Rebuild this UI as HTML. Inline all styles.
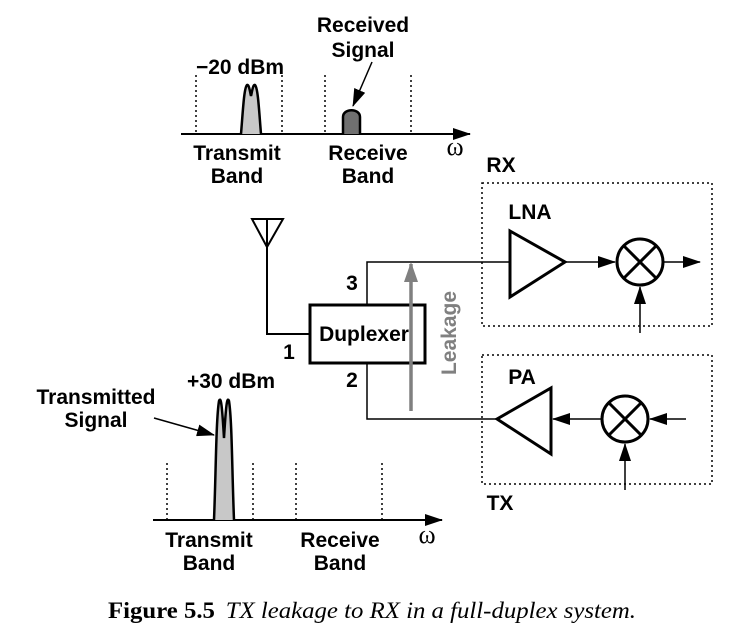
<!DOCTYPE html>
<html><head><style>body{margin:0;background:#fff}svg{display:block}</style></head><body>
<svg width="741" height="634" viewBox="0 0 741 634" xmlns="http://www.w3.org/2000/svg" font-family="Liberation Sans, sans-serif">
<defs><marker id="b" markerWidth="18" markerHeight="12" refX="17" refY="6" orient="auto" markerUnits="userSpaceOnUse"><path d="M0,0L18,6L0,12z" fill="#000"/></marker>
<marker id="g" markerWidth="20" markerHeight="14" refX="18" refY="7" orient="auto" markerUnits="userSpaceOnUse"><path d="M0,0L20,7L0,14z" fill="#808080"/></marker></defs>
<g stroke="#000" fill="none">
<line x1="181" y1="134" x2="470" y2="134" stroke-width="2" marker-end="url(#b)"/>
<g stroke-dasharray="2,3" stroke-width="1.5"><line x1="196" y1="75" x2="196" y2="134"/><line x1="282" y1="75" x2="282" y2="134"/><line x1="325" y1="75" x2="325" y2="134"/><line x1="411" y1="75" x2="411" y2="134"/></g>
<path d="M241,134 C243,110 244,88 247,85 C249,84 250,92 251,96 C252,92 253,84 255,85 C258,88 259,110 261,134" fill="#c8c8c8" stroke-width="2.5"/>
<path d="M343,134 L343,117 C343,108 360,108 360,117 L360,134" fill="#707070" stroke-width="2.5"/>
<line x1="372" y1="62" x2="353" y2="106" stroke-width="1.5" marker-end="url(#b)"/>
<path d="M252,219 L283,219 L267,247 Z M267,219 L267,247 L267,334 L310,334" stroke-width="2"/>
<rect x="310" y="305" width="115" height="58" stroke-width="3"/>
<path d="M367,305 L367,262 L510,262 M367,363 L367,419 L497,419" stroke-width="1.5"/>
<path d="M510,231 L565,262 L510,297 Z" stroke-width="3"/>
<line x1="565" y1="262" x2="615" y2="262" stroke-width="1.5" marker-end="url(#b)"/>
<circle cx="640" cy="262" r="23" stroke-width="3"/>
<path d="M624,246 L656,278 M656,246 L624,278" stroke-width="3"/>
<line x1="663" y1="262" x2="700" y2="262" stroke-width="1.5" marker-end="url(#b)"/>
<line x1="640" y1="333" x2="640" y2="287" stroke-width="1.5" marker-end="url(#b)"/>
<path d="M497,419 L551,388 L551,454 Z" stroke-width="3"/>
<line x1="602" y1="419" x2="553" y2="419" stroke-width="1.5" marker-end="url(#b)"/>
<circle cx="625" cy="419" r="23" stroke-width="3"/>
<path d="M609,403 L641,435 M641,403 L609,435" stroke-width="3"/>
<line x1="686" y1="419" x2="650" y2="419" stroke-width="1.5" marker-end="url(#b)"/>
<line x1="625" y1="490" x2="625" y2="444" stroke-width="1.5" marker-end="url(#b)"/>
<g stroke-dasharray="2,3" stroke-width="1.5"><rect x="482" y="183" width="230" height="143"/><rect x="482" y="355" width="230" height="129"/></g>
<line x1="411" y1="411" x2="411" y2="264" stroke="#808080" stroke-width="3.5" marker-end="url(#g)"/>
<line x1="153" y1="520" x2="442" y2="520" stroke-width="2" marker-end="url(#b)"/>
<g stroke-dasharray="2,3" stroke-width="1.5"><line x1="167" y1="463" x2="167" y2="520"/><line x1="253" y1="463" x2="253" y2="520"/><line x1="296" y1="463" x2="296" y2="520"/><line x1="382" y1="463" x2="382" y2="520"/></g>
<path d="M214,520 C216,470 216,420 219,401 C221,396 222,405 224,438 C226,405 227,396 229,401 C232,420 232,470 234,520" fill="#c8c8c8" stroke-width="2.5"/>
<line x1="154" y1="418" x2="214" y2="435" stroke-width="1.5" marker-end="url(#b)"/>
</g>
<g font-weight="bold" font-size="21" text-anchor="middle" fill="#000">
<text x="240" y="74">−20 dBm</text>
<text x="363" y="32">Received</text><text x="363" y="57">Signal</text>
<text x="237" y="160">Transmit</text><text x="237" y="183">Band</text>
<text x="368" y="160">Receive</text><text x="368" y="183">Band</text>
<text x="501" y="172">RX</text><text x="530" y="219">LNA</text>
<text x="364" y="341">Duplexer</text>
<text x="289" y="359">1</text><text x="352" y="290">3</text><text x="352" y="387">2</text>
<text x="522" y="384">PA</text><text x="500" y="510">TX</text>
<text x="231" y="388">+30 dBm</text>
<text x="96" y="404">Transmitted</text><text x="96" y="427">Signal</text>
<text x="209" y="547">Transmit</text><text x="209" y="570">Band</text>
<text x="340" y="547">Receive</text><text x="340" y="570">Band</text>
<text x="456" y="333" fill="#808080" transform="rotate(-90 456 333)">Leakage</text>
</g>
<text x="455" y="155" font-family="Liberation Serif, serif" font-size="26" text-anchor="middle">ω</text>
<text x="427" y="543" font-family="Liberation Serif, serif" font-size="26" text-anchor="middle">ω</text>
<text x="108" y="618" font-family="Liberation Serif, serif" font-size="23" textLength="528" lengthAdjust="spacingAndGlyphs"><tspan font-weight="bold">Figure 5.5</tspan><tspan font-style="italic" dx="10">TX leakage to RX in a full-duplex system.</tspan></text>
</svg>
</body></html>
